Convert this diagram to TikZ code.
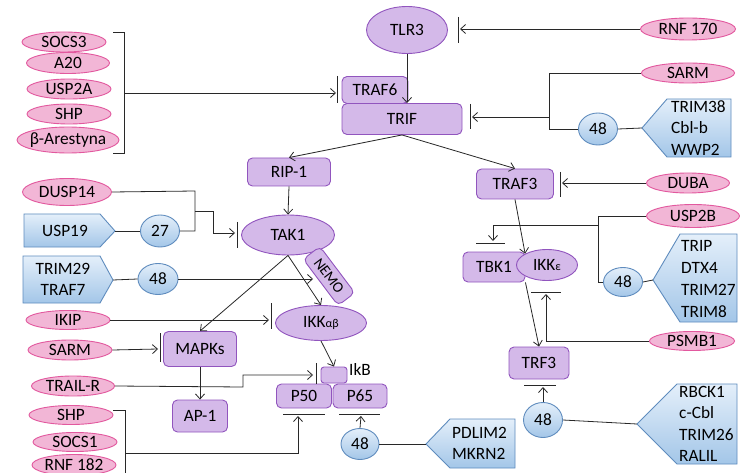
\documentclass[tikz,border=0pt]{standalone}
\usepackage{fontspec}
\setmainfont{Carlito}
\usetikzlibrary{shapes.geometric,arrows.meta}
\definecolor{pfill}{RGB}{212,185,233}
\definecolor{pdraw}{RGB}{145,85,190}
\definecolor{kfill}{RGB}{242,182,214}
\definecolor{kdraw}{RGB}{226,88,158}
\definecolor{btop}{RGB}{228,239,250}
\definecolor{bbot}{RGB}{163,198,232}
\definecolor{bdraw}{RGB}{95,140,190}
\definecolor{lcol}{RGB}{40,40,40}
\begin{document}
\begin{tikzpicture}[x=1pt,y=-1pt,
  every node/.style={font=\fontsize{17.3}{19}\selectfont, inner sep=0pt},
  pbox/.style={draw=pdraw, fill=pfill, rounded corners=5pt, line width=0.9pt},
  pell/.style={ellipse, draw=pdraw, fill=pfill, line width=0.9pt},
  kell/.style={ellipse, draw=kdraw, fill=kfill, line width=0.9pt},
  bcirc/.style={ellipse, draw=bdraw, top color=btop, bottom color=bbot, line width=0.9pt},
  bshape/.style={draw=bdraw, top color=btop, bottom color=bbot, line width=0.9pt},
  con/.style={draw=lcol, line width=0.8pt},
  arr/.style={con, -{Straight Barb[length=5pt,width=9pt]}},
  tbar/.style={draw=lcol, line width=1pt},
  sz/.style 2 args={minimum width=#1pt, minimum height=#2pt}
]
\useasboundingbox (0,0) rectangle (744,473);
\fill[white] (0,0) rectangle (744,473);

% ---------- blue pointer shapes ----------
\path[bshape] (642,128) -- (667,99) -- (731,99) -- (731,157) -- (667,157) -- cycle;
\coordinate (s1tip) at (642,128);
\node[anchor=west, align=left, font=\fontsize{17.3}{21.5}\selectfont] (s1txt) at (671,128) {TRIM38\\Cbl-b\\WWP2};

\path[bshape] (653,280) -- (680,234) -- (737,234) -- (737,322) -- (680,322) -- cycle;
\coordinate (s2tip) at (653,280);
\node[anchor=west, align=left, font=\fontsize{17.3}{21.7}\selectfont] (s2txt) at (681,279) {TRIP\\DTX4\\TRIM27\\TRIM8};

\path[bshape] (637,424) -- (677,384) -- (737,384) -- (737,464) -- (677,464) -- cycle;
\coordinate (s3tip) at (637,424);
\node[anchor=west, align=left, font=\fontsize{17.3}{21.3}\selectfont] (s3txt) at (679,424) {RBCK1\\c-Cbl\\TRIM26\\RALIL};

\path[bshape] (426,444) -- (450,419) -- (515,419) -- (515,468) -- (450,468) -- cycle;
\coordinate (s4tip) at (426,444);
\node[anchor=west, align=left, font=\fontsize{17.3}{21}\selectfont] (s4txt) at (452,443) {PDLIM2\\MKRN2};

\path[bshape] (24,214) -- (100,214) -- (115,231) -- (100,247) -- (24,247) -- cycle;
\coordinate (s5tip) at (115,231);
\node (usp19) at (65,231) {USP19};

\path[bshape] (23,256) -- (100,256) -- (113,280) -- (100,303) -- (23,303) -- cycle;
\coordinate (s6tip) at (113,280);
\node[align=center, font=\fontsize{17.3}{21}\selectfont] (trim29) at (63,279) {TRIM29\\TRAF7};

% ---------- pink ellipses ----------
\node[kell, sz={84}{20}] (socs3) at (64,42) {SOCS3};
\node[kell, sz={83}{21}] (a20) at (68,63) {A20};
\node[kell, sz={84}{20}] (usp2a) at (69,89) {USP2A};
\node[kell, sz={84}{20}] (shpa) at (69,114) {SHP};
\node[kell, sz={102}{26}, inner xsep=-9pt] (barr) at (68,140) {β-Arestyna};
\node[kell, sz={95}{22}] (rnf170) at (688,29) {RNF 170};
\node[kell, sz={93}{20}] (sarma) at (688,73) {SARM};
\node[kell, sz={83}{20}] (duba) at (688,183) {DUBA};
\node[kell, sz={93}{23}] (usp2b) at (693,216) {USP2B};
\node[kell, sz={85}{19}] (psmb1) at (692,341) {PSMB1};
\node[kell, sz={89}{27}] (dusp14) at (67,192) {DUSP14};
\node[kell, sz={84}{19}] (ikip) at (68,320) {IKIP};
\node[kell, sz={84}{20}] (sarmb) at (70,350) {SARM};
\node[kell, sz={83}{20}, inner xsep=-3pt] (trailr) at (73,386) {TRAIL-R};
\node[kell, sz={84}{19}] (shpb) at (71,415) {SHP};
\node[kell, sz={84}{19}] (socs1) at (75,442) {SOCS1};
\node[kell, sz={84}{21}] (rnf182) at (74,465) {RNF 182};

% ---------- purple nodes ----------
\node[pell, sz={81}{47}] (tlr3) at (407,30) {TLR3};
\node[pbox, sz={66}{27}] (traf6) at (375,90) {TRAF6};
\node[pbox, sz={120}{31}] (trif) at (402,119) {TRIF};
\node[pbox, sz={83}{28}] (rip1) at (289,172) {RIP-1};
\node[pbox, sz={77}{30}] (traf3) at (515,184) {TRAF3};
\node[pbox, sz={62}{30}] (tbk1) at (494,267) {TBK1};
\node[pell, sz={61}{31}] (ikke) at (547,265) {IKK{\fontsize{12}{12}\selectfont ε}};
\node[pbox, sz={60}{32}] (trf3) at (539,363) {TRF3};
\node[pell, sz={93}{40}] (tak1) at (288,235) {TAK1};
\node[pbox, sz={58}{21}, rotate=-53, font=\fontsize{15}{15}\selectfont] (nemo) at (329,276) {NEMO};
\node[pell, sz={91}{35}] (ikkab) at (321,323) {IKK{\fontsize{12}{12}\selectfont αβ}};
\node[pbox, sz={73}{35}] (mapks) at (200,349) {MAPKs};
\node[pbox, sz={55}{32}] (ap1) at (200,416) {AP-1};
\node[pbox, sz={26}{16}, rounded corners=3pt] (ikb) at (334,375) {};
\node[anchor=west] (ikblab) at (349,369) {IkB};
\node[pbox, sz={55}{24}] (p50) at (304,396) {P50};
\node[pbox, sz={54}{24}] (p65) at (360,396) {P65};

% ---------- blue circles ----------
\node[bcirc, sz={39}{32}] (c48a) at (598,129) {48};
\node[bcirc, sz={39}{32}] (c27) at (160,231) {27};
\node[bcirc, sz={40}{31}] (c48b) at (158,279) {48};
\node[bcirc, sz={39}{29}] (c48c) at (623,282) {48};
\node[bcirc, sz={38}{31}] (c48d) at (360,444) {48};
\node[bcirc, sz={39}{35}] (c48e) at (543,420) {48};

% ---------- coordinates ----------
\coordinate (bk1) at (124,93);
\coordinate (b1) at (336,93);
\coordinate (b2) at (460,29);
\coordinate (j1) at (549,117);
\coordinate (b3) at (472,117);
\coordinate (b4) at (562,183);
\coordinate (j2) at (598,225);
\coordinate (b5) at (493,241);
\coordinate (b6) at (546,294);
\coordinate (b7) at (543,387);
\coordinate (j3) at (195,211);
\coordinate (b8) at (235,233);
\coordinate (b9) at (313,279);
\coordinate (b10) at (269,320);
\coordinate (b11) at (158,349);
\coordinate (b12) at (313,375);
\coordinate (bk2) at (125,453);
\coordinate (b13) at (298,416);
\coordinate (b14) at (361,416);

% ---------- T bars ----------
\draw[tbar] (337,76) -- (337,103);
\draw[tbar] (458,17) -- (458,43);
\draw[tbar] (470,104) -- (470,129);
\draw[tbar] (560,172) -- (560,197);
\draw[tbar] (476,243) -- (505,243);
\draw[tbar] (531,292) -- (561,292);
\draw[tbar] (524,385) -- (556,385);
\draw[tbar] (237,222) -- (237,248);
\draw[tbar] (271,303) -- (271,329);
\draw[tbar] (160,333) -- (160,362);
\draw[tbar] (316,363) -- (316,384);
\draw[tbar] (283,414) -- (325,414);
\draw[tbar] (339,414) -- (380,414);

% ---------- brackets ----------
\draw[con] (113,32) -- (124,32) -- (124,153) -- (113,153);
\draw[con] (113,410) -- (125,410) -- (125,480);

% ---------- connectors ----------
\draw[arr] (bk1) -- (b1);
\draw[arr] (tlr3.south) -- (tlr3.south |- trif.north);
\draw[arr] (rnf170.west) -- (b2);
\draw[con] (sarma.west) -- (549,73) -- (549,129) -- (c48a.west);
\draw[arr] (j1) -- (b3);
\draw[con] (c48a.east) -- (s1tip);
\draw[arr] (trif.south) -- (rip1.north);
\draw[arr] (trif.south) -- (traf3.north);
\draw[arr] (duba.west) -- (b4);
\draw[con] (usp2b.west) -- (598,216) |- (c48c.west);
\draw[arr] (j2) -| (b5);
\draw[con] (c48c.east) -- (s2tip);
\draw[arr] (traf3.south) -- (ikke.north west);
\draw[arr] (tbk1.south east) -- (trf3.north);
\draw[arr] (psmb1.west) -| (b6);
\draw[arr] (c48e.north) -- (b7);
\draw[con] (c48e.east) -- (s3tip);
\draw[con] (dusp14.east) -- (195,191) -- (195,231) -- (c27.east);
\draw[arr] (j3) -- (213,211) -- (213,233) -- (b8);
\draw[con] (s5tip) -- (c27.west);
\draw[arr] (rip1.south) -- (tak1.north);
\draw[con] (s6tip) -- (c48b.west);
\draw[arr] (c48b.east) -- (b9);
\draw[arr] (tak1.south) -- (mapks.north);
\draw[arr] (tak1.south) -- (ikkab.north);
\draw[arr] (ikip.east) -- (b10);
\draw[arr] (sarmb.east) -- (b11);
\draw[arr] (mapks.south) -- (ap1.north);
\draw[arr] (trailr.east) -- (243,387) -- (243,375) -- (b12);
\draw[arr] (ikkab.south) -- (ikb.north);
\draw[arr] (bk2) -| (b13);
\draw[arr] (c48d.north) -- (b14);
\draw[con] (c48d.east) -- (s4tip);
\end{tikzpicture}
\end{document}
